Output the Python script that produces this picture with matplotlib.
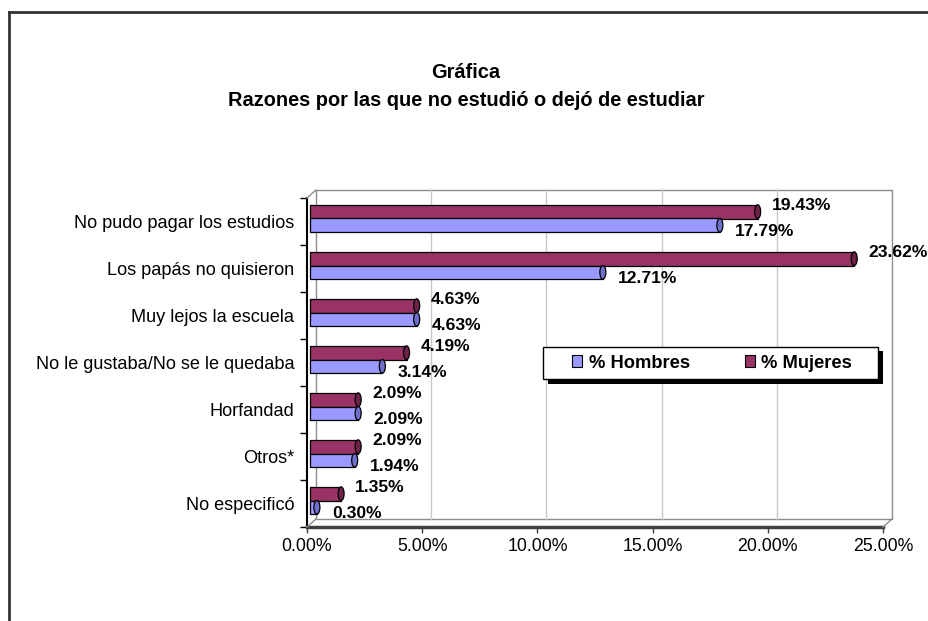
import matplotlib.pyplot as plt
from matplotlib.patches import Rectangle, Ellipse, Patch
from matplotlib.lines import Line2D
from matplotlib.transforms import ScaledTranslation, IdentityTransform

plt.rcParams['font.family'] = ['Liberation Sans', 'DejaVu Sans']

# datos
categorias = ['No pudo pagar los estudios', 'Los papás no quisieron', 'Muy lejos la escuela',
              'No le gustaba/No se le quedaba', 'Horfandad', 'Otros*', 'No especificó']
hombres = [17.79, 12.71, 4.63, 3.14, 2.09, 1.94, 0.30]
mujeres = [19.43, 23.62, 4.63, 4.19, 2.09, 2.09, 1.35]
series = ['% Hombres', '% Mujeres']
xticks = [0, 5, 10, 15, 20, 25]
xticklabels = ['0.00%', '5.00%', '10.00%', '15.00%', '20.00%', '25.00%']
titulo = 'Gráfica'
subtitulo = 'Razones por las que no estudió o dejó de estudiar'

col_h, col_m = '#9999FF', '#993366'
cap_h, cap_m = '#6f6fcc', '#6e2249'

W, H = 929, 621
fig = plt.figure(figsize=(W / 100, H / 100), dpi=100)
ax = fig.add_axes([307 / W, 1 - 527 / H, 576 / W, 329 / H])
ax.set_xlim(0, 25)
ax.set_ylim(-0.5, 6.5)
ax.patch.set_visible(False)

n = len(categorias)
ys = [n - 1 - i for i in range(n)]

# pared del fondo (efecto 3D)
back = ax.transData + ScaledTranslation(0.09, 0.08, fig.dpi_scale_trans)
ax.add_patch(Rectangle((0, -0.5), 25, 7, transform=back, fill=False,
                       edgecolor='#8c8c8c', lw=1, clip_on=False, zorder=0))
for x in xticks[1:-1]:
    ax.add_line(Line2D([x, x], [-0.5, 6.5], transform=back, color='#c8c8c8',
                       lw=1, clip_on=False, zorder=0))

# diagonales del piso y pared lateral
for px, py in [(0, -0.5), (25, -0.5), (0, 6.5)]:
    x0, y0 = ax.transData.transform((px, py))
    fig.add_artist(Line2D([x0, x0 + 9], [y0, y0 + 8], transform=IdentityTransform(),
                          color='#8c8c8c', lw=1))

# barras
h = 0.29
shift = ax.transData + ScaledTranslation(0.03, 0.03, fig.dpi_scale_trans)
cw = 6 / 23.04
ax.barh([y + h / 2 for y in ys], mujeres, height=h, color=col_m, edgecolor='black',
        lw=0.9, transform=shift, clip_on=False, zorder=3)
ax.barh([y - h / 2 for y in ys], hombres, height=h, color=col_h, edgecolor='black',
        lw=0.9, transform=shift, clip_on=False, zorder=3)
for y, vh, vm in zip(ys, hombres, mujeres):
    ax.add_patch(Ellipse((vm, y + h / 2), cw, h, transform=shift, facecolor=cap_m,
                         edgecolor='black', lw=0.9, clip_on=False, zorder=4))
    ax.add_patch(Ellipse((vh, y - h / 2), cw, h, transform=shift, facecolor=cap_h,
                         edgecolor='black', lw=0.9, clip_on=False, zorder=4))
    ax.annotate(f'{vm:.2f}%', xy=(vm, y + h / 2), xytext=(17, 9), textcoords='offset pixels',
                fontsize=12.6, fontweight='bold', va='center', ha='left', annotation_clip=False)
    ax.annotate(f'{vh:.2f}%', xy=(vh, y - h / 2), xytext=(18, -3), textcoords='offset pixels',
                fontsize=12.6, fontweight='bold', va='center', ha='left', annotation_clip=False)

# ejes
for s in ['top', 'right']:
    ax.spines[s].set_visible(False)
ax.spines['left'].set_color('black')
ax.spines['left'].set_linewidth(1.5)
ax.spines['bottom'].set_color('#404040')
ax.spines['bottom'].set_linewidth(2.5)
ax.spines['left'].set_zorder(5)
ax.spines['bottom'].set_zorder(5)

ax.set_yticks([i - 0.5 for i in range(n + 1)], [''] * (n + 1))
ax.set_yticks(ys, categorias, minor=True)
ax.tick_params(axis='y', which='major', length=5, width=1, color='black', direction='out')
ax.tick_params(axis='y', which='minor', length=0, pad=9, labelsize=13.1)
ax.set_xticks(xticks, xticklabels)
ax.tick_params(axis='x', length=4.5, width=1, color='#404040', pad=3.5, labelsize=12.8)

# titulo
fig.text(466 / W, 1 - 72 / H, titulo, ha='center', va='center', fontsize=14.4, fontweight='bold')
fig.text(466 / W, 1 - 100 / H, subtitulo, ha='center', va='center', fontsize=14.4,
         fontweight='bold')

# leyenda con sombra
fig.add_artist(Rectangle((548 / W, 1 - 383.5 / H), 335 / W, 32.6 / H, transform=fig.transFigure,
                         facecolor='black', edgecolor='black', lw=0, zorder=2))
fig.add_artist(Rectangle((543 / W, 1 - 379.3 / H), 335 / W, 32.6 / H, transform=fig.transFigure,
                         facecolor='white', edgecolor='black', lw=1, zorder=3))
handles = [Patch(facecolor=col_h, edgecolor='black', lw=0.8),
           Patch(facecolor=col_m, edgecolor='black', lw=0.8)]
leg = fig.legend(handles, series, loc='center', bbox_to_anchor=(712 / W, 1 - 363 / H), ncol=2,
                 frameon=False, handlelength=0.55, handleheight=0.55, handletextpad=0.35,
                 columnspacing=3.0, prop={'weight': 'bold', 'size': 13.2})
leg.set_zorder(6)

# borde del grafico
fig.add_artist(Line2D([9.5 / W, 1], [1 - 11.5 / H, 1 - 11.5 / H], transform=fig.transFigure,
                      color='#333333', lw=2))
fig.add_artist(Line2D([9.5 / W, 9.5 / W], [0, 1 - 11.5 / H], transform=fig.transFigure,
                      color='#333333', lw=2))

fig.savefig('out.png', dpi=100)
